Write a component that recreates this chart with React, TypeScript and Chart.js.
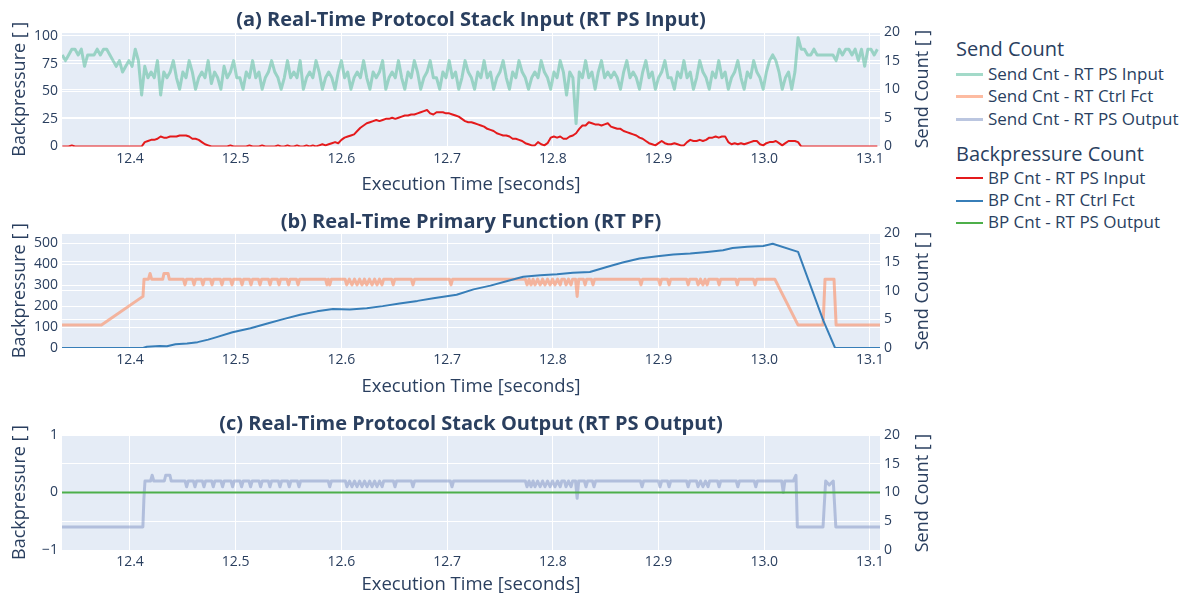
import React, { useEffect, useRef } from "react";
import { Chart, registerables } from "chart.js";

Chart.register(...registerables);

const X_MIN = 12.3357;
const X_MAX = 13.1095;
const T_START = 12.336;
const DT = 0.003;

// (a) sampled every DT seconds from T_START (right axis: Send Count)
const sendCntPsInput = [
  16, 15, 16, 17, 17, 16, 17, 14, 16, 16, 16, 17, 16, 17, 17, 16, 15, 14, 15, 13, 14, 15,
  14, 17, 15, 9, 14, 12, 13, 12, 15, 9, 13,
  12, 13, 15, 12, 10, 13, 12, 15, 13, 10,
  12, 13, 12, 15, 11, 13, 12, 10, 14, 12,
  13, 15, 12, 12, 10, 13, 12, 15, 12, 13,
  10, 12, 13, 15, 13, 12, 10, 12, 15, 12,
  13, 12, 15, 10, 12, 13, 12, 15, 13, 10,
  12, 13, 12, 10, 13, 15, 12, 13, 10, 12,
  13, 12, 15, 12, 10, 13, 12, 13, 15, 10,
  12, 13, 12, 15, 12, 10, 13, 12, 15, 13,
  10, 12, 13, 15, 12, 12, 10, 13, 12, 15,
  12, 13, 10, 12, 15, 13, 12, 10, 13, 12,
  15, 12, 13, 10, 12, 13, 15, 12, 10, 13,
  12, 15, 13, 12, 10, 12, 13, 12, 15, 13,
  12, 10, 13, 12, 15, 13, 9, 13, 12, 4,
  13, 12, 15, 12, 13, 10, 13, 15, 12, 13,
  12, 13, 12, 10, 13, 15, 12, 13, 12, 10,
  13, 15, 12, 13, 10, 12, 13, 15, 12, 12,
  10, 13, 12, 15, 12, 13, 10, 12, 15, 13,
  12, 10, 13, 12, 15, 12, 13, 10, 12, 13,
  15, 12, 10, 13, 12, 15, 13, 12, 10, 13,
  15, 16, 15, 13, 10, 12, 13, 10, 13,
  19,
  17, 17, 16, 16, 17, 16, 16, 16, 16, 16, 16, 15, 17, 16, 17, 17, 16, 17, 15, 17, 14, 17, 17, 16, 17,
];

// (a) sampled every DT seconds from T_START (left axis: Backpressure)
const bpCntPsInput = [
  0, 0, 0, 1, 0, 0, 0, 0, 0, 0, 0, 0, 0, 0, 0, 0, 0, 0, 0, 0, 0, 0, 0, 0, 0, 0,
  4, 5, 6, 6, 7, 9, 8, 8, 9, 9, 9, 10, 10, 10, 9, 7, 7, 6, 4, 2, 1, 0,
  0, 0, 0, 0, 0, 1, 0, 0, 0, 0,
  0, 1, 0, 0, 0, 1, 0, 0, 0, 0, 1, 0, 0, 1, 0, 0, 1, 0, 0, 1, 0, 1, 0,
  1, 2, 1, 2, 3, 4, 3, 6, 8, 9, 10, 11, 14, 17, 19, 21, 22, 23, 24,
  23, 24, 25, 25, 26, 25, 26, 27, 28, 28, 29, 29, 30, 31, 32, 33, 30, 29, 31, 31,
  31, 30, 30, 29, 28, 27, 25, 23, 22, 22, 21, 20, 19, 18, 16, 15, 14, 12, 11, 10,
  10, 9, 7, 7, 6, 5, 3, 2, 1, 1, 4, 2, 1, 3, 8, 9, 8, 9, 7, 7,
  9, 10, 12, 16, 19, 19, 22, 21, 20, 20, 19, 20, 21, 18, 17, 16, 16, 14, 13, 12,
  11, 10, 8, 7, 5, 3, 2, 1, 3, 5, 3, 2, 2, 3, 2, 1, 1, 4, 6, 5,
  5, 6, 5, 6, 8, 8, 9, 8, 9, 9, 4, 2, 3, 2, 3, 2, 3, 4, 5, 5,
  2, 1, 3, 4, 4, 5, 3, 1, 3, 5, 5, 5, 4, 0,
  0, 0, 0, 0, 0, 0, 0, 0, 0, 0, 0, 0, 0, 0, 0, 0, 0, 0, 0, 0, 0, 0, 0, 0,
];

// (b) [time, backpressure]
const bpCntCtrlFct: [number, number][] = [
  [12.3357, 0], [12.4123, 0], [12.416, 6], [12.428, 9], [12.435, 8], [12.443, 18], [12.454, 22],
  [12.464, 28], [12.474, 40], [12.482, 52], [12.497, 75], [12.514, 94], [12.53, 117], [12.545, 138],
  [12.561, 159], [12.577, 175], [12.592, 186], [12.608, 184], [12.624, 190], [12.639, 200],
  [12.655, 213], [12.672, 225], [12.687, 238], [12.709, 254], [12.725, 280], [12.741, 298],
  [12.757, 320], [12.772, 340], [12.788, 348], [12.804, 352], [12.819, 359], [12.835, 363],
  [12.851, 387], [12.866, 408], [12.882, 427], [12.899, 438], [12.914, 446], [12.93, 451],
  [12.946, 459], [12.961, 467], [12.97, 478], [12.984, 483], [12.999, 487], [13.008, 498],
  [13.032, 459], [13.056, 130], [13.067, 0], [13.1095, 0],
];

// (b) [time, send count]
const sendCntCtrlFct: [number, number][] = [
  [12.3357, 4], [12.373, 4], [12.4123, 9], [12.4133, 12], [12.4175, 12], [12.419, 13], [12.4205, 12],
  [12.431, 12], [12.4322, 13], [12.436, 13], [12.4372, 12],
  [12.4505, 12], [12.452, 11], [12.4535, 12],
  [12.4591, 12], [12.4606, 11], [12.4621, 12],
  [12.4675, 12], [12.469, 11], [12.4705, 12],
  [12.4761, 12], [12.4776, 11], [12.4791, 12],
  [12.4855, 12], [12.487, 11], [12.4885, 12],
  [12.495, 12], [12.4965, 11], [12.498, 12],
  [12.5045, 12], [12.506, 11], [12.5075, 12],
  [12.513, 12], [12.5145, 11], [12.516, 12],
  [12.5215, 12], [12.523, 11], [12.5245, 12],
  [12.531, 12], [12.5325, 11], [12.534, 12],
  [12.5395, 12], [12.541, 11], [12.5425, 12],
  [12.5485, 12], [12.55, 11], [12.5515, 12],
  [12.5575, 12], [12.559, 11], [12.5605, 12],
  [12.585, 12], [12.5864, 11], [12.5877, 12], [12.589, 11], [12.5905, 12],
  [12.6035, 12], [12.605, 11], [12.6075, 12], [12.61, 11], [12.6124, 12], [12.6148, 11],
  [12.6172, 12], [12.6195, 11], [12.6218, 12], [12.624, 11], [12.6265, 12], [12.629, 11],
  [12.6314, 12], [12.6337, 11], [12.636, 12], [12.6384, 11], [12.64, 12],
  [12.6475, 12], [12.649, 11], [12.6505, 12],
  [12.6662, 12], [12.6677, 11], [12.6692, 12],
  [12.7022, 12], [12.7037, 11], [12.7052, 12],
  [12.774, 12], [12.7756, 11], [12.7775, 12], [12.7794, 11], [12.7813, 12], [12.7832, 11],
  [12.7856, 12], [12.788, 11], [12.7903, 12], [12.7926, 11], [12.795, 12], [12.7974, 11],
  [12.7997, 12], [12.802, 11], [12.8045, 12], [12.807, 11], [12.8085, 12],
  [12.811, 12], [12.8125, 11], [12.8148, 12], [12.8172, 11], [12.8187, 12],
  [12.8215, 12], [12.823, 9], [12.8245, 12],
  [12.829, 12], [12.8305, 11], [12.832, 12],
  [12.8365, 12], [12.838, 11], [12.8395, 12],
  [12.8819, 12], [12.8834, 11], [12.8849, 12],
  [12.8999, 12], [12.9014, 11], [12.9029, 12],
  [12.9085, 12], [12.91, 11], [12.9115, 12],
  [12.9265, 12], [12.928, 11], [12.9295, 12],
  [12.9359, 12], [12.9374, 11], [12.9397, 12], [12.942, 11], [12.944, 12], [12.946, 11], [12.9475, 12],
  [12.9558, 12], [12.9573, 11], [12.9588, 12],
  [12.973, 12], [12.9745, 11], [12.976, 12],
  [12.9898, 12], [12.9913, 11], [12.9928, 12],
  [13.01, 12], [13.032, 4], [13.0556, 4], [13.0575, 12], [13.066, 12], [13.068, 4], [13.1095, 4],
];

// (c) [time, send count]
const sendCntPsOutput: [number, number][] = [
  [12.3357, 4], [12.4122, 4], [12.4132, 9], [12.4142, 12], [12.4195, 12], [12.421, 13], [12.4225, 12],
  [12.4325, 12], [12.4338, 13], [12.4378, 13], [12.439, 12],
  [12.4521, 12], [12.4536, 11], [12.4551, 12],
  [12.46, 12], [12.4615, 11], [12.463, 12],
  [12.4685, 12], [12.47, 11], [12.4715, 12],
  [12.4773, 12], [12.4788, 11], [12.4803, 12],
  [12.4861, 12], [12.4876, 11], [12.4891, 12],
  [12.4956, 12], [12.4971, 11], [12.4986, 12],
  [12.5041, 12], [12.5056, 11], [12.5071, 12],
  [12.5126, 12], [12.5141, 11], [12.5156, 12],
  [12.5221, 12], [12.5236, 11], [12.5251, 12],
  [12.5309, 12], [12.5324, 11], [12.5339, 12],
  [12.5404, 12], [12.5419, 11], [12.5434, 12],
  [12.5492, 12], [12.5507, 11], [12.5522, 12],
  [12.5584, 12], [12.5599, 11], [12.5614, 12],
  [12.5875, 12], [12.589, 11], [12.5905, 12],
  [12.6038, 12], [12.6053, 11], [12.6077, 12], [12.61, 11], [12.6124, 12], [12.6148, 11],
  [12.6172, 12], [12.6195, 11], [12.6219, 12], [12.6243, 11], [12.6267, 12], [12.629, 11],
  [12.6314, 12], [12.6337, 11], [12.6361, 12], [12.6385, 11], [12.64, 12],
  [12.6492, 12], [12.6507, 11], [12.6522, 12],
  [12.6662, 12], [12.6677, 11], [12.6692, 12],
  [12.7031, 12], [12.7046, 11], [12.7061, 12],
  [12.774, 12], [12.7756, 11], [12.7775, 12], [12.7794, 11], [12.7813, 12], [12.7832, 11],
  [12.7856, 12], [12.788, 11], [12.7903, 12], [12.7926, 11], [12.795, 12], [12.7974, 11],
  [12.7997, 12], [12.802, 11], [12.8045, 12], [12.807, 11], [12.8085, 12],
  [12.811, 12], [12.8125, 11], [12.8148, 12], [12.8172, 11], [12.8187, 12],
  [12.8215, 12], [12.823, 9], [12.8245, 12],
  [12.8299, 12], [12.8314, 11], [12.8329, 12],
  [12.8375, 12], [12.839, 11], [12.8405, 12],
  [12.8829, 12], [12.8844, 11], [12.8859, 12],
  [12.8999, 12], [12.9014, 11], [12.9029, 12],
  [12.9085, 12], [12.91, 11], [12.9115, 12],
  [12.9265, 12], [12.928, 11], [12.9295, 12],
  [12.9359, 12], [12.9374, 11], [12.9397, 12], [12.942, 11], [12.9444, 12], [12.9468, 11], [12.9483, 12],
  [12.9558, 12], [12.9573, 11], [12.9588, 12],
  [12.9735, 12], [12.975, 11], [12.9765, 12],
  [12.9905, 12], [12.992, 11], [12.9935, 12],
  [13.0165, 12], [13.018, 10], [13.0195, 12],
  [13.0275, 12], [13.03, 13], [13.0313, 4], [13.0556, 4], [13.0581, 12], [13.0615, 11.3],
  [13.0653, 12], [13.0677, 4], [13.1095, 4],
];

// (c) [time, backpressure]
const bpCntPsOutput: [number, number][] = [[12.3357, 0], [13.1095, 0]];

const FONT = '"Open Sans", verdana, arial, sans-serif';
const TXT = "#2a3f5f";
const C_SEND_IN = "rgba(102,194,165,0.6)";
const C_SEND_CTRL = "rgba(252,141,98,0.6)";
const C_SEND_OUT = "rgba(141,160,203,0.6)";
const C_BP_IN = "#e41a1c";
const C_BP_CTRL = "#377eb8";
const C_BP_OUT = "#4daf4a";

const gridTimes = sendCntPsInput.map((_, i) => T_START + i * DT);
const fromGrid = (vals: number[]) => vals.map((v, i) => ({ x: gridTimes[i], y: v }));
const fromPairs = (pts: [number, number][]) => pts.map(([x, y]) => ({ x, y }));

const bgPlugin = {
  id: "plotBg",
  beforeDraw(chart: any) {
    const { ctx, chartArea } = chart;
    if (!chartArea) return;
    ctx.save();
    ctx.fillStyle = "#e5ecf6";
    ctx.fillRect(chartArea.left, chartArea.top, chartArea.right - chartArea.left, chartArea.bottom - chartArea.top);
    ctx.restore();
  },
};

function lineDs(data: any[], color: string, width: number, axis: string, order: number) {
  return {
    data,
    borderColor: color,
    backgroundColor: color,
    borderWidth: width,
    pointRadius: 0,
    pointHoverRadius: 0,
    fill: false,
    tension: 0,
    clip: 0,
    yAxisID: axis,
    order,
    borderJoinStyle: "round" as const,
  };
}

type Spec = {
  padTop: number;
  xHeight: number;
  xTitlePad: number;
  yMin: number;
  yMax: number;
  yStep: number;
  datasets: any[];
};

function buildConfig(spec: Spec): any {
  const tickFont = { size: 14, family: FONT };
  const titleFont = { size: 18.5, family: FONT };
  return {
    type: "line",
    data: { datasets: spec.datasets },
    options: {
      responsive: false,
      animation: false,
      events: [],
      layout: { padding: { top: spec.padTop, left: 0, right: 0, bottom: 0 } },
      plugins: { legend: { display: false }, tooltip: { enabled: false }, title: { display: false } },
      scales: {
        x: {
          type: "linear",
          min: X_MIN,
          max: X_MAX,
          afterFit: (s: any) => {
            s.height = spec.xHeight;
          },
          grid: { color: "#ffffff", lineWidth: 1, drawTicks: false },
          border: { display: false },
          ticks: {
            stepSize: 0.1,
            includeBounds: false,
            padding: 4,
            color: TXT,
            font: tickFont,
            maxRotation: 0,
            autoSkip: false,
            callback: (v: any) => Number(v).toFixed(1),
          },
          title: {
            display: true,
            text: "Execution Time [seconds]",
            color: TXT,
            font: titleFont,
            padding: { top: 0, bottom: spec.xTitlePad },
          },
        },
        y: {
          type: "linear",
          position: "left",
          min: spec.yMin,
          max: spec.yMax,
          afterFit: (s: any) => {
            s.width = 62;
          },
          grid: { color: "#ffffff", lineWidth: 1, drawTicks: false },
          border: { display: false },
          ticks: {
            stepSize: spec.yStep,
            includeBounds: false,
            padding: 4,
            color: TXT,
            font: tickFont,
            callback: (v: any) => (v < 0 ? "\u2212" + Math.abs(v) : String(v)),
          },
          title: {
            display: true,
            text: "Backpressure [ ]",
            color: TXT,
            font: { size: 18, family: FONT },
            padding: { top: 9.2, bottom: 0 },
          },
        },
        y2: {
          type: "linear",
          position: "right",
          min: 0,
          max: 20,
          afterFit: (s: any) => {
            s.width = 60;
          },
          grid: { color: "#ffffff", lineWidth: 1, drawTicks: false, drawOnChartArea: true },
          border: { display: false },
          ticks: { stepSize: 5, includeBounds: false, padding: 4, color: TXT, font: tickFont },
        },
      },
    },
    plugins: [bgPlugin],
  };
}

const specA: Spec = {
  padTop: 32,
  xHeight: 53.5,
  xTitlePad: 3.9,
  yMin: 0,
  yMax: 103.6,
  yStep: 25,
  datasets: [
    lineDs(fromGrid(bpCntPsInput), C_BP_IN, 2, "y", 0),
    lineDs(fromGrid(sendCntPsInput), C_SEND_IN, 3, "y2", 1),
  ],
};

const specB: Spec = {
  padTop: 33.3,
  xHeight: 52,
  xTitlePad: 2.4,
  yMin: 0,
  yMax: 547.8,
  yStep: 100,
  datasets: [
    lineDs(fromPairs(bpCntCtrlFct), C_BP_CTRL, 2, "y", 0),
    lineDs(fromPairs(sendCntCtrlFct), C_SEND_CTRL, 3, "y2", 1),
  ],
};

const specC: Spec = {
  padTop: 35,
  xHeight: 50,
  xTitlePad: 3.9,
  yMin: -1,
  yMax: 1,
  yStep: 1,
  datasets: [
    lineDs(fromPairs(bpCntPsOutput), C_BP_OUT, 2, "y", 0),
    lineDs(fromPairs(sendCntPsOutput), C_SEND_OUT, 3, "y2", 1),
  ],
};

const subplotTitles = [
  { text: "(a) Real-Time Protocol Stack Input (RT PS Input)", top: 6 },
  { text: "(b) Real-Time Primary Function (RT PF)", top: 208 },
  { text: "(c) Real-Time Protocol Stack Output (RT PS Output)", top: 410 },
];

const rightTitleCenters = [89.25, 290.7, 492.5];

const legendGroups = [
  {
    title: "Send Count",
    y: 50,
    items: [
      { label: "Send Cnt - RT PS Input", color: C_SEND_IN, w: 3, y: 74 },
      { label: "Send Cnt - RT Ctrl Fct", color: C_SEND_CTRL, w: 3, y: 96.7 },
      { label: "Send Cnt - RT PS Output", color: C_SEND_OUT, w: 3, y: 119.3 },
    ],
  },
  {
    title: "Backpressure Count",
    y: 154.3,
    items: [
      { label: "BP Cnt - RT PS Input", color: C_BP_IN, w: 2, y: 178.3 },
      { label: "BP Cnt - RT Ctrl Fct", color: C_BP_CTRL, w: 2, y: 200.7 },
      { label: "BP Cnt - RT PS Output", color: C_BP_OUT, w: 2, y: 222.7 },
    ],
  },
];

export default function App() {
  const refA = useRef<HTMLCanvasElement>(null);
  const refB = useRef<HTMLCanvasElement>(null);
  const refC = useRef<HTMLCanvasElement>(null);

  useEffect(() => {
    Chart.defaults.font.family = FONT;
    Chart.defaults.color = TXT;
    const charts = [
      new Chart(refA.current as HTMLCanvasElement, buildConfig(specA)),
      new Chart(refB.current as HTMLCanvasElement, buildConfig(specB)),
      new Chart(refC.current as HTMLCanvasElement, buildConfig(specC)),
    ];
    return () => charts.forEach((c) => c.destroy());
  }, []);

  const textBase: React.CSSProperties = {
    position: "absolute",
    fontFamily: FONT,
    color: TXT,
    whiteSpace: "nowrap",
  };

  return (
    <div
      style={{
        position: "absolute",
        left: 0,
        top: 0,
        width: 1181,
        height: 593,
        overflow: "hidden",
        background: "#ffffff",
      }}
    >
      <canvas ref={refA} width={940} height={200} style={{ position: "absolute", left: 0, top: 0 }} />
      <canvas ref={refB} width={940} height={200} style={{ position: "absolute", left: 0, top: 200 }} />
      <canvas ref={refC} width={940} height={200} style={{ position: "absolute", left: 0, top: 400 }} />

      {subplotTitles.map((t) => (
        <div
          key={t.text}
          style={{
            ...textBase,
            left: 62,
            width: 818,
            top: t.top,
            height: 26,
            lineHeight: "26px",
            fontSize: 20,
            fontWeight: 700,
            textAlign: "center",
          }}
        >
          {t.text}
        </div>
      ))}

      {rightTitleCenters.map((cy, i) => (
        <div
          key={i}
          style={{
            ...textBase,
            left: 921,
            top: cy,
            fontSize: 18,
            lineHeight: "22px",
            transform: "translate(-50%, -50%) rotate(-90deg)",
          }}
        >
          Send Count [ ]
        </div>
      ))}

      {legendGroups.map((g) => (
        <React.Fragment key={g.title}>
          <div style={{ ...textBase, left: 956, top: g.y - 14.6, fontSize: 20, lineHeight: "28px" }}>{g.title}</div>
          {g.items.map((it) => (
            <React.Fragment key={it.label}>
              <div
                style={{
                  position: "absolute",
                  left: 956,
                  width: 27,
                  top: it.y - it.w / 2,
                  height: it.w,
                  background: it.color,
                }}
              />
              <div style={{ ...textBase, left: 988, top: it.y - 12.5, fontSize: 17, lineHeight: "24px" }}>
                {it.label}
              </div>
            </React.Fragment>
          ))}
        </React.Fragment>
      ))}
    </div>
  );
}
